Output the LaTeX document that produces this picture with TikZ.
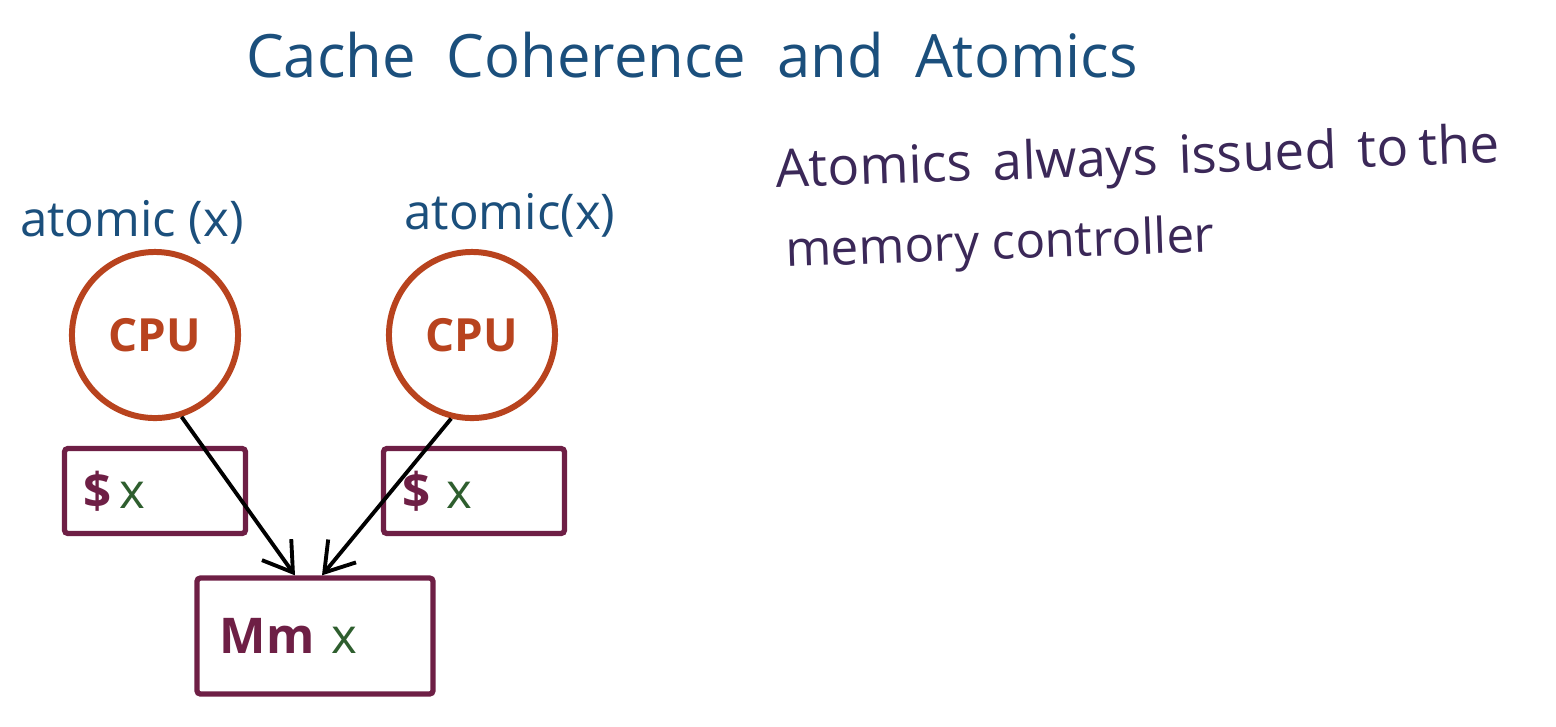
\documentclass[tikz,border=0pt]{standalone}
\usepackage{fontspec}
\setmainfont{Open Sans}
\usetikzlibrary{positioning,arrows.meta,calc}
\definecolor{titleblue}{HTML}{1B4F7C}
\definecolor{notepurple}{HTML}{3B2858}
\definecolor{cpuorange}{HTML}{B8431E}
\definecolor{boxmaroon}{HTML}{6E1F45}
\definecolor{xgreen}{HTML}{2E5E2E}

\begin{document}
\begin{tikzpicture}[x=0.01cm,y=-0.01cm,
 cpu/.style={circle,draw=cpuorange,line width=1.7pt,minimum size=1.66cm,inner sep=0pt,text=cpuorange,font=\fontsize{13}{15}\selectfont\bfseries},
 cachebox/.style={draw=boxmaroon,line width=1.5pt,rounded corners=1pt,minimum height=0.85cm,text width=1.43cm,inner sep=0.19cm,align=left,font=\fontsize{14}{16}\selectfont},
 mmbox/.style={draw=boxmaroon,line width=1.5pt,rounded corners=1pt,minimum height=1.16cm,text width=1.9cm,inner sep=0.23cm,align=left,font=\fontsize{14}{16}\selectfont},
 hand/.style={inner sep=0pt,font=\fontsize{#1}{#1}\selectfont},
 arr/.style={-{Straight Barb[length=2.8mm,width=3.6mm]},line width=1.1pt}]
\useasboundingbox (0,0) rectangle (1556,726);
\node[hand=17,text=titleblue] (title) at (692,55) {Cache\ \ Coherence\ \ and\ \ Atomics};
\node[hand=15,text=notepurple,anchor=west,rotate=2] (note1) at (775,174) {Atomics\hspace{6pt}always\hspace{6pt}issued\hspace{6pt}to\hspace{3pt}the};
\node[hand=14,text=notepurple,anchor=west,rotate=2] (note2) at (785,254) {memory\ controller};
\node[hand=14,text=titleblue] (atomL) at (132,222) {atomic (x)};
\node[hand=14,text=titleblue] (atomR) at (510,215) {atomic(x)};
% processors and their caches
\node[cpu] (cpuL) at (155,335) {CPU};
\node[cpu] (cpuR) at (472,335) {CPU};
\node[cachebox] (cacheL) at (155,491) {\textbf{\color{boxmaroon}\$}\,{\color{xgreen}x}};
\node[cachebox] (cacheR) at (474,491) {\textbf{\color{boxmaroon}\$}\ {\color{xgreen}x}};
\node[mmbox] (mm) at (315,636) {\textbf{\color{boxmaroon}Mm}\ {\color{xgreen}x}};
\draw[arr] (cpuL.-72) -- ([xshift=-0.2cm]mm.north);
\draw[arr] (cpuR.-104) -- ([xshift=0.07cm]mm.north);
\end{tikzpicture}
\end{document}
